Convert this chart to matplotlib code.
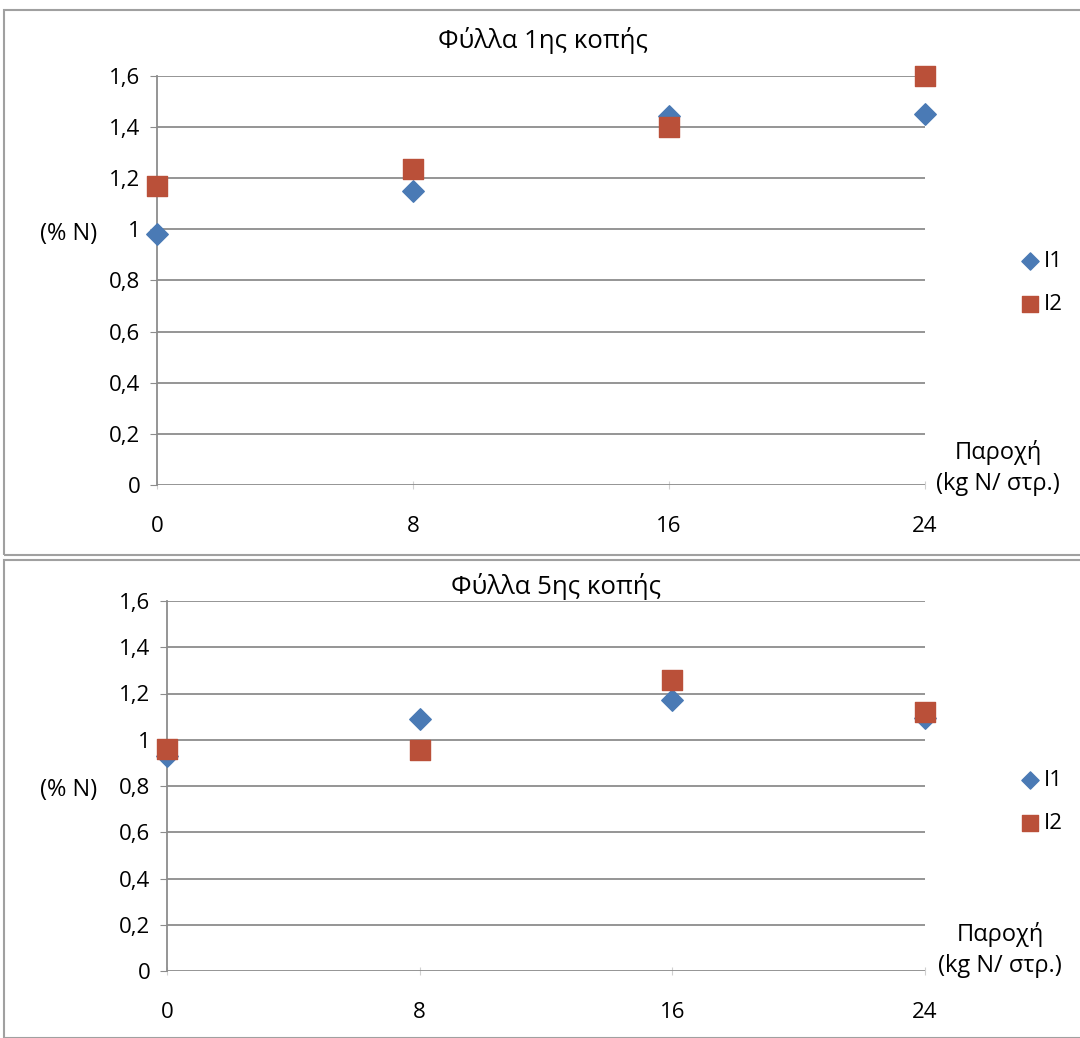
import matplotlib
matplotlib.use('Agg')
import matplotlib.pyplot as plt
from matplotlib.ticker import FuncFormatter
from matplotlib.patches import Rectangle

plt.rcParams['font.family'] = ['Open Sans', 'DejaVu Sans']

# data
doses = [0, 8, 16, 24]
xticks = [0, 8, 16, 24]
yticks = [0, 0.2, 0.4, 0.6, 0.8, 1.0, 1.2, 1.4, 1.6]
i1_first = [0.98, 1.15, 1.445, 1.45]
i2_first = [1.17, 1.235, 1.40, 1.60]
i1_fifth = [0.93, 1.09, 1.17, 1.095]
i2_fifth = [0.96, 0.957, 1.26, 1.12]
titles = ['Φύλλα 1ης κοπής', 'Φύλλα 5ης κοπής']

blue = '#4A7AB5'
red = '#BA5039'
grid = '#8c8c8c'
W, H = 1080.0, 1038.0


def comma(v, pos):
    s = ('%.1f' % v).replace('.', ',')
    return s[:-2] if s.endswith(',0') else s


fig = plt.figure(figsize=(10.8, 10.38), dpi=100)

# panel frames
for (y0, h) in [(1 - 555 / H, 545 / H), (0.0, 478 / H)]:
    fig.patches.append(Rectangle((0.004, y0), 1.2, h, transform=fig.transFigure,
                                 fill=False, edgecolor='#a0a0a0', lw=1.5))

positions = [[157 / W, 1 - 485 / H, 768 / W, 409 / H],
             [167 / W, 1 - 971 / H, 758 / W, 370 / H]]
series = [(i1_first, i2_first), (i1_fifth, i2_fifth)]
title_pos = [(543, 40), (556, 587)]
ylab_pos = [(97, 234), (97, 790)]
xlab_pos = [(998, 468), (1000, 950)]
leg_pos = [(1019, 283), (1019, 802)]

for k, (pos, (s1, s2), title) in enumerate(zip(positions, series, titles)):
    ax = fig.add_axes(pos)
    ax.set_xlim(0, 24)
    ax.set_ylim(0, 1.6)
    ax.set_yticks(yticks)
    ax.set_xticks(xticks)
    ax.yaxis.set_major_formatter(FuncFormatter(comma))
    ax.grid(axis='y', color=grid, lw=1.3)
    ax.set_axisbelow(True)
    for sp in ['top', 'right', 'bottom']:
        ax.spines[sp].set_visible(False)
    ax.spines['left'].set_color(grid)
    ax.spines['left'].set_linewidth(1.3)
    ax.tick_params(axis='y', length=5, color=grid, labelsize=16, pad=7)
    ax.tick_params(axis='x', length=6, color='#d0d0d0', labelsize=16, pad=19, direction='inout')
    ax.scatter(doses, s1, marker='D', s=120, color=blue, zorder=3, clip_on=False, label='I1')
    ax.scatter(doses, s2, marker='s', s=200, color=red, zorder=4, clip_on=False, label='I2')

    fig.text(title_pos[k][0] / W, 1 - title_pos[k][1] / H, title,
             fontsize=18.5, ha='center', va='center')
    fig.text(ylab_pos[k][0] / W, 1 - ylab_pos[k][1] / H, '(% N)',
             fontsize=17, ha='right', va='center')
    fig.text(xlab_pos[k][0] / W, 1 - xlab_pos[k][1] / H, 'Παροχή\n(kg N/ στρ.)',
             fontsize=17, ha='center', va='center', linespacing=1.35)
    ax.legend(loc='center left', bbox_to_anchor=(leg_pos[k][0] / W, 1 - leg_pos[k][1] / H),
              bbox_transform=fig.transFigure, borderaxespad=0, borderpad=0,
              frameon=False, fontsize=16, handletextpad=0.1, labelspacing=1.0,
              markerscale=0.8, handlelength=1.0)

fig.savefig('out.png', dpi=100)
